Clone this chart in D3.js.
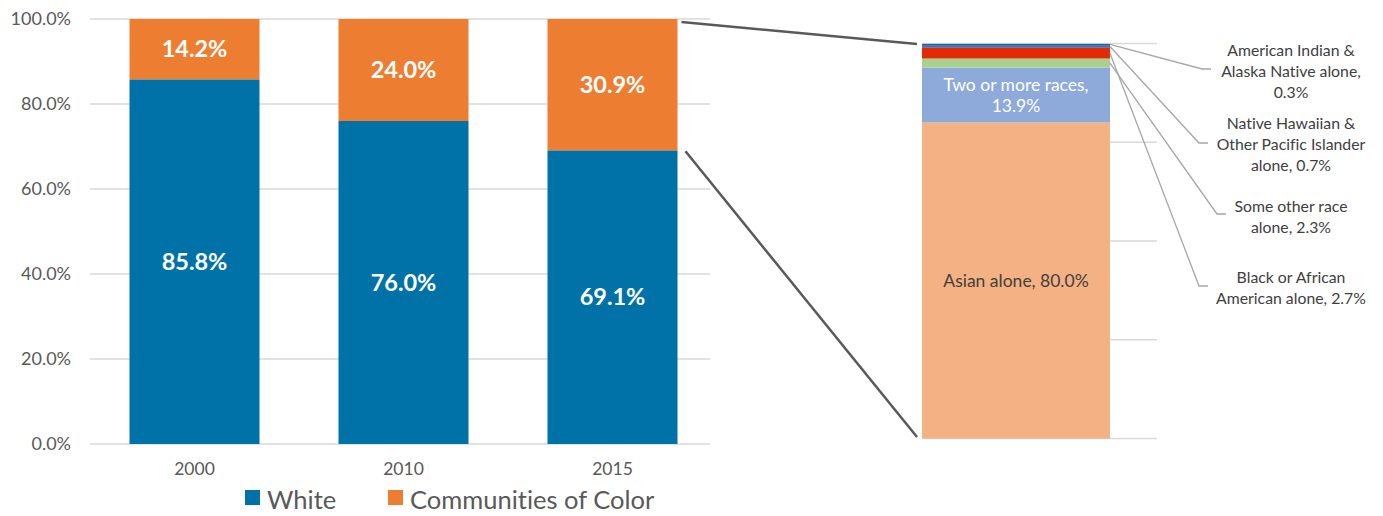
<!DOCTYPE html>
<html>
<head>
<meta charset="utf-8">
<script src="https://cdn.jsdelivr.net/npm/d3@7"></script>
<style>
  html, body { margin: 0; padding: 0; background: #fff; }
  svg { display: block; font-family: Lato, "Open Sans", sans-serif; font-variant-ligatures: none; }
</style>
</head>
<body>
<svg id="chart" width="1383" height="516"></svg>
<script>
// Share of population by year
const years = ["2000", "2010", "2015"];
const whiteShare = [85.8, 76.0, 69.1];
const colorShare = [14.2, 24.0, 30.9];
const yTicks = [0, 20, 40, 60, 80, 100];
const legendLabels = ["White", "Communities of Color"];

// 2015 breakdown of communities of color, bottom to top
const groupNames = [
  "Asian alone",
  "Two or more races",
  "Some other race alone",
  "Black or African American alone",
  "Native Hawaiian & Other Pacific Islander alone",
  "American Indian & Alaska Native alone"
];
const groupShare = [80.0, 13.9, 2.3, 2.7, 0.7, 0.3];
const rightTicks = [0, 25, 50, 75, 100];

const svg = d3.select("#chart");
const axisColor = "#595959";
const gridColor = "#d9d9d9";
const mainColors = ["#0072a7", "#ed7d31"];
const groupColors = ["#f4b183", "#8eaadb", "#a9d18e", "#e22a05", "#5468b0", "#0a6cae"];

// ---------- left stacked bars ----------
const x = d3.scaleBand().domain(years).range([90, 717]).paddingInner(0.378).paddingOuter(0.189);
const y = d3.scaleLinear().domain([0, 100]).range([444, 19]);
const gridRight = 710;

const gLeft = svg.append("g");
gLeft.selectAll("line.grid").data(yTicks).join("line")
  .attr("x1", 90).attr("x2", gridRight)
  .attr("y1", d => y(d)).attr("y2", d => y(d))
  .attr("stroke", gridColor).attr("stroke-width", 1.3);

gLeft.selectAll("text.ytick").data(yTicks).join("text")
  .attr("x", 71).attr("y", d => y(d)).attr("dy", "0.35em")
  .attr("text-anchor", "end").attr("fill", axisColor)
  .style("font-size", "18px")
  .text(d => d3.format(".1f")(d) + "%");

gLeft.selectAll("text.xtick").data(years).join("text")
  .attr("x", d => x(d) + x.bandwidth() / 2).attr("y", 469).attr("dy", "0.35em")
  .attr("text-anchor", "middle").attr("fill", axisColor)
  .style("font-size", "17.5px")
  .text(d => d);

const rows = years.map((yr, i) => ({ year: yr, white: whiteShare[i], color: colorShare[i] }));
const stack = d3.stack().keys(["white", "color"])(rows);

stack.forEach((layer, li) => {
  gLeft.selectAll(null).data(layer).join("rect")
    .attr("x", d => x(d.data.year)).attr("width", x.bandwidth())
    .attr("y", d => y(d[1])).attr("height", d => y(d[0]) - y(d[1]))
    .attr("fill", mainColors[li]);
  gLeft.selectAll(null).data(layer).join("text")
    .attr("x", d => x(d.data.year) + x.bandwidth() / 2)
    .attr("y", d => (y(d[0]) + y(d[1])) / 2).attr("dy", "0.35em")
    .attr("text-anchor", "middle").attr("fill", "#fff")
    .style("font-size", "23.5px").style("font-weight", "bold")
    .text(d => d3.format(".1f")(d[1] - d[0]) + "%");
});

// legend
const legend = svg.append("g");
const legendX = [245, 388];
legendLabels.forEach((lab, i) => {
  legend.append("rect").attr("x", legendX[i]).attr("y", 490).attr("width", 15).attr("height", 15)
    .attr("fill", mainColors[i]);
  legend.append("text").attr("x", legendX[i] + 22).attr("y", 500).attr("dy", "0.35em")
    .attr("fill", axisColor).style("font-size", "25.5px").text(lab);
});

// ---------- right breakdown bar ----------
const yR = d3.scaleLinear().domain([0, 100]).range([438.5, 43.5]);
const barL = 922, barR = 1110, gridR = 1157;
const gRight = svg.append("g");

gRight.selectAll("line").data(rightTicks).join("line")
  .attr("x1", barL).attr("x2", gridR)
  .attr("y1", d => yR(d)).attr("y2", d => yR(d))
  .attr("stroke", gridColor).attr("stroke-width", 1.3);

let acc = 0;
const segs = groupShare.map((v, i) => {
  const s = { name: groupNames[i], value: v, y0: acc, y1: acc + v, color: groupColors[i] };
  acc += v;
  return s;
});

gRight.selectAll("rect").data(segs).join("rect")
  .attr("x", barL).attr("width", barR - barL)
  .attr("y", d => yR(d.y1)).attr("height", d => yR(d.y0) - yR(d.y1))
  .attr("fill", d => d.color);

const cx = (barL + barR) / 2;
// labels inside the bar
const asian = segs[0], twoMore = segs[1];
gRight.append("text").attr("x", cx).attr("y", (yR(asian.y0) + yR(asian.y1)) / 2).attr("dy", "0.35em")
  .attr("text-anchor", "middle").attr("fill", "#404040").style("font-size", "17.5px")
  .text(asian.name + ", " + d3.format(".1f")(asian.value) + "%");
const tmY = (yR(twoMore.y0) + yR(twoMore.y1)) / 2;
gRight.append("text").attr("x", cx).attr("y", tmY - 10.5).attr("dy", "0.35em")
  .attr("text-anchor", "middle").attr("fill", "#fff").style("font-size", "17.5px")
  .text(twoMore.name + ",");
gRight.append("text").attr("x", cx).attr("y", tmY + 10.5).attr("dy", "0.35em")
  .attr("text-anchor", "middle").attr("fill", "#fff").style("font-size", "17.5px")
  .text(d3.format(".1f")(twoMore.value) + "%");

// callout labels for the thin segments
const callouts = [
  { seg: segs[5], lines: ["American Indian &", "Alaska Native alone,", "0.3%"], top: 50, elbow: [1202, 69] },
  { seg: segs[4], lines: ["Native Hawaiian &", "Other Pacific Islander", "alone, 0.7%"], top: 123, elbow: [1199, 143] },
  { seg: segs[2], lines: ["Some other race", "alone, 2.3%"], top: 206, elbow: [1217, 214] },
  { seg: segs[3], lines: ["Black or African", "American alone, 2.7%"], top: 277, elbow: [1199, 286] }
];
callouts.forEach(c => {
  const sy = (yR(c.seg.y0) + yR(c.seg.y1)) / 2;
  gRight.append("polyline")
    .attr("points", [[barR, sy], c.elbow, [c.elbow[0] + 9, c.elbow[1]]].map(p => p.join(",")).join(" "))
    .attr("fill", "none").attr("stroke", "#a6a6a6").attr("stroke-width", 1.3);
  c.lines.forEach((t, k) => {
    gRight.append("text").attr("x", 1291).attr("y", c.top + k * 21.3).attr("dy", "0.35em")
      .attr("text-anchor", "middle").attr("fill", "#404040").style("font-size", "15.8px").text(t);
  });
});

// connector lines from the 2015 bar to the breakdown
const last = years[years.length - 1];
const bar15R = x(last) + x.bandwidth();
const lastIdx = years.length - 1;
const conn = svg.append("g").attr("stroke", "#595959").attr("stroke-width", 2.5).attr("fill", "none");
conn.append("line").attr("x1", bar15R + 4).attr("y1", y(100) + 3).attr("x2", barL - 5).attr("y2", yR(100) + 0.5);
conn.append("line").attr("x1", bar15R + 8).attr("y1", y(whiteShare[lastIdx]) + 1).attr("x2", barL - 5).attr("y2", yR(0) - 1.5);
</script>
</body>
</html>
